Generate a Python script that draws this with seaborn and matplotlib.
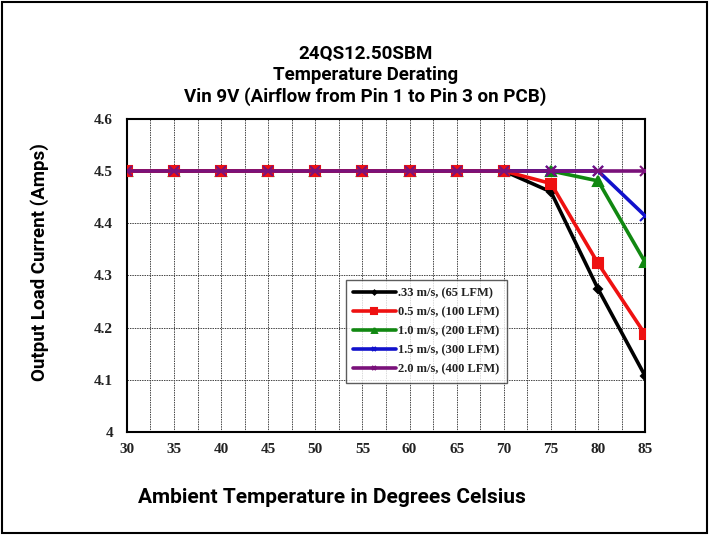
import numpy as np
import pandas as pd
import matplotlib
matplotlib.use('Agg')
import matplotlib.pyplot as plt
from matplotlib.patches import Rectangle
import seaborn as sns

# temperature derating data
temps = [30, 35, 40, 45, 50, 55, 60, 65, 70, 75, 80, 85]
flow_033 = [4.5, 4.5, 4.5, 4.5, 4.5, 4.5, 4.5, 4.5, 4.5, 4.46, 4.274, 4.107]
flow_05 = [4.5, 4.5, 4.5, 4.5, 4.5, 4.5, 4.5, 4.5, 4.5, 4.476, 4.323, 4.187]
flow_10 = [4.5, 4.5, 4.5, 4.5, 4.5, 4.5, 4.5, 4.5, 4.5, 4.5, 4.481, 4.325]
flow_15 = [4.5, 4.5, 4.5, 4.5, 4.5, 4.5, 4.5, 4.5, 4.5, 4.5, 4.5, 4.414]
flow_20 = [4.5, 4.5, 4.5, 4.5, 4.5, 4.5, 4.5, 4.5, 4.5, 4.5, 4.5, 4.5]
labels = ['.33 m/s, (65 LFM)', '0.5 m/s, (100 LFM)', '1.0 m/s, (200 LFM)',
          '1.5 m/s, (300 LFM)', '2.0 m/s, (400 LFM)']
colors = ['black', '#ee1111', '#118811', '#1111cc', '#7a117a']
markers = ['D', 's', '^', 'x', 'x']
msizes = [4, 7.5, 7, 7, 7]
zorders = [3, 6, 4, 5, 7]

series = [flow_033, flow_05, flow_10, flow_15, flow_20]
df = pd.DataFrame({'temp': temps * 5,
                   'amps': sum(series, []),
                   'flow': sum([[l] * len(temps) for l in labels], [])})

sns.set_style('white')
plt.rcParams['text.color'] = 'black'
fig = plt.figure(figsize=(7.09, 5.35), dpi=100)
ax = fig.add_axes([0.179, 0.1925, 0.731, 0.5855])

for i, lab in enumerate(labels):
    sns.lineplot(data=df[df.flow == lab], x='temp', y='amps', ax=ax,
                 color=colors[i], marker=markers[i], markersize=msizes[i],
                 markeredgecolor=colors[i], markeredgewidth=1.5,
                 linewidth=2.6, label=lab, zorder=zorders[i])

ax.set_xlim(30, 85)
ax.set_ylim(4.0, 4.6)
ax.set_xticks(np.arange(30, 86, 5))
ax.set_xticks(np.arange(32.5, 85, 5), minor=True)
ax.set_yticks(np.arange(4.0, 4.61, 0.1))
ax.set_yticks(np.arange(4.05, 4.6, 0.1), minor=True)
ax.set_yticklabels(['4', '4.1', '4.2', '4.3', '4.4', '4.5', '4.6'])
ax.grid(True, which='major', axis='both', color='#444444', linestyle=(0, (1.5, 1)), linewidth=0.7)
ax.grid(True, which='minor', axis='x', color='#444444', linestyle=(0, (1.5, 1)), linewidth=0.7)
ax.tick_params(which='major', direction='out', length=4, width=1, color='black',
               labelsize=11, labelcolor='#222222')
ax.tick_params(which='minor', direction='out', length=3, width=1, color='black')
ax.tick_params(axis='x', pad=4)
ax.tick_params(axis='y', pad=6)
for lbl in ax.get_xticklabels() + ax.get_yticklabels():
    lbl.set_family('Liberation Serif')
    lbl.set_fontweight('bold')
for s in ax.spines.values():
    s.set_color('black')
    s.set_linewidth(1.5)

ax.set_xlabel('')
ax.set_ylabel('')
leg = ax.legend(loc='upper left', bbox_to_anchor=(0.41, 0.505), frameon=True,
                fancybox=False, edgecolor='#333333', markerscale=0.5,
                prop={'family': 'Liberation Serif', 'weight': 'bold', 'size': 9},
                handlelength=3.4, handletextpad=0.2, labelspacing=0.55,
                borderpad=0.6)
leg.get_frame().set_linewidth(1)
for t in leg.get_texts():
    t.set_color('#222222')

tfont = dict(ha='center', va='center', fontweight='bold', family='Roboto', color='black')
fig.text(0.515, 0.900, '24QS12.50SBM', fontsize=13.5, **tfont)
fig.text(0.515, 0.860, 'Temperature Derating', fontsize=13.5, **tfont)
fig.text(0.515, 0.819, 'Vin 9V (Airflow from Pin 1 to Pin 3 on PCB)', fontsize=13.5, **tfont)
fig.text(0.468, 0.071, 'Ambient Temperature in Degrees Celsius', fontsize=15, **tfont)
fig.text(0.056, 0.51, 'Output Load Current (Amps)', rotation=90, fontsize=13.5, **tfont)

fig.patches.append(Rectangle((0.003, 0.003), 0.994, 0.994, transform=fig.transFigure,
                             fill=False, edgecolor='black', linewidth=1.5))

fig.savefig('out.png', dpi=100)
